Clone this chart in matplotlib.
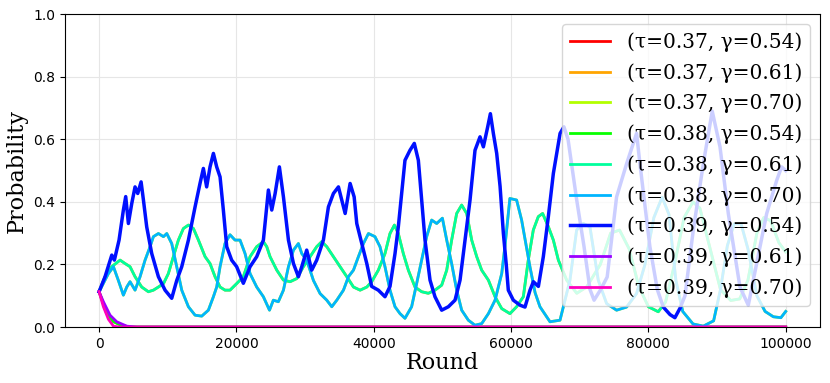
import matplotlib
matplotlib.use("Agg")
import matplotlib.pyplot as plt

plt.rcParams["font.family"] = ["DejaVu Serif"]

labels = ["(τ=0.37, γ=0.54)", "(τ=0.37, γ=0.61)", "(τ=0.37, γ=0.70)",
          "(τ=0.38, γ=0.54)", "(τ=0.38, γ=0.61)", "(τ=0.38, γ=0.70)",
          "(τ=0.39, γ=0.54)", "(τ=0.39, γ=0.61)", "(τ=0.39, γ=0.70)"]

# collapsing runs
red_x = [0, 1000, 2000, 3200, 4500, 100000]
red_y = [0.113, 0.05, 0.02, 0.006, 0.0, 0.0]
green_x = [0, 1120, 2090, 3300, 4500, 100000]
green_y = [0.113, 0.044, 0.017, 0.005, 0.0, 0.0]
purple_x = [0, 630, 1600, 2570, 4030, 5500, 100000]
purple_y = [0.113, 0.081, 0.038, 0.017, 0.003, 0.0, 0.0]
magenta_x = [0, 630, 1360, 2090, 3000, 100000]
magenta_y = [0.113, 0.065, 0.025, 0.003, 0.0, 0.0]

# gamma=0.61 runs
teal_x = [0, 870, 1840, 3060, 3790, 4510, 5240, 6210, 7180, 7910, 8640, 9380,
          10090, 10820, 11550, 12280, 13010, 13740, 14470, 15440, 16160, 16890,
          17620, 18340, 19070, 20040, 21010, 21990, 22960, 23930, 24420, 24900,
          25880, 26850, 27820, 28790, 29760, 30730, 31700, 32430, 33160, 34130,
          35100, 36080, 37050, 38020, 39000, 39700, 40670, 41640, 42370, 43010,
          43580, 44310, 45040, 46010, 46980, 47950, 48920, 49900, 50630, 51350,
          52080, 52810, 53540, 54270, 55000, 55720, 56700, 57670, 58640, 59840,
          60810, 61790, 62510, 63240, 63970, 64600, 65430, 66160, 66890, 68100,
          69570, 71000, 73000, 74500, 75800, 77200, 78600, 80000, 81440, 82500,
          83800, 85200, 86500, 87500, 89000, 90500, 92000, 93300, 94500, 95800,
          96800, 97800, 99000, 100000]
teal_y = [0.113, 0.161, 0.193, 0.214, 0.203, 0.193, 0.161, 0.128, 0.113, 0.118, 0.128, 0.139,
          0.171, 0.225, 0.278, 0.315, 0.326, 0.315, 0.278, 0.225, 0.203, 0.161,
          0.128, 0.118, 0.118, 0.139, 0.161, 0.225, 0.257, 0.273, 0.257, 0.225,
          0.182, 0.15, 0.145, 0.155, 0.193, 0.225, 0.257, 0.273, 0.257, 0.225,
          0.193, 0.161, 0.128, 0.118, 0.128, 0.145, 0.182, 0.235, 0.299, 0.326,
          0.299, 0.235, 0.182, 0.128, 0.113, 0.108, 0.118, 0.134, 0.182, 0.278,
          0.363, 0.39, 0.363, 0.278, 0.225, 0.182, 0.15, 0.097, 0.059, 0.043,
          0.065, 0.097, 0.214, 0.31, 0.353, 0.363, 0.321, 0.278, 0.214, 0.15,
          0.108, 0.128, 0.2, 0.3, 0.31, 0.25, 0.13, 0.065, 0.049, 0.08,
          0.2, 0.35, 0.4, 0.38, 0.25, 0.12, 0.085, 0.09, 0.15, 0.3,
          0.35, 0.34, 0.27, 0.24]
orange_x = teal_x
orange_y = teal_y

# gamma=0.70 runs
lblue_x = [0, 1360, 2090, 2810, 3540, 4030, 4510, 5240, 5970, 6700, 7430, 7910,
           8640, 9380, 9860, 10580, 11310, 12040, 13010, 13980, 14950, 15920,
           16650, 17130, 17620, 18340, 19070, 19800, 20530, 21260, 21990, 22960,
           23930, 24820, 25380, 26110, 26850, 27580, 28310, 29030, 29520, 30240,
           31220, 32190, 33160, 33890, 34620, 35590, 36320, 37050, 37770, 38500,
           39230, 40180, 40910, 41640, 42370, 43100, 43830, 44550, 45520, 46250,
           46980, 47710, 48440, 49170, 50000, 50630, 51350, 52080, 52810, 53780,
           54750, 55720, 56700, 57670, 58640, 59120, 59830, 60810, 61540, 62750,
           63500, 64210, 65670, 67130, 68580, 69550, 70520, 71490, 72700, 73920,
           75370, 76830, 78280, 79500, 80800, 82000, 83000, 84000, 85000, 86500,
           88000, 89500, 90500, 91500, 92500, 93500, 94500, 95800, 97000, 98200,
           99300, 100000]
lblue_y = [0.113, 0.171, 0.193, 0.149, 0.102, 0.128, 0.145, 0.118, 0.161, 0.214, 0.257, 0.289,
           0.299, 0.289, 0.299, 0.267, 0.193, 0.118, 0.065, 0.038, 0.035, 0.054,
           0.097, 0.128, 0.193, 0.267, 0.295, 0.278, 0.278, 0.235, 0.171, 0.128,
           0.097, 0.054, 0.086, 0.081, 0.118, 0.193, 0.246, 0.267, 0.235, 0.214,
           0.149, 0.107, 0.086, 0.065, 0.086, 0.118, 0.161, 0.182, 0.225, 0.267,
           0.299, 0.289, 0.257, 0.193, 0.118, 0.065, 0.043, 0.028, 0.065, 0.139,
           0.214, 0.289, 0.342, 0.331, 0.348, 0.278, 0.203, 0.118, 0.054, 0.022,
           0.006, 0.011, 0.043, 0.086, 0.171, 0.26, 0.411, 0.406, 0.342, 0.193,
           0.11, 0.065, 0.017, 0.022, 0.15, 0.31, 0.331, 0.32, 0.15, 0.075,
           0.054, 0.064, 0.107, 0.2, 0.35, 0.415, 0.36, 0.15, 0.05, 0.01,
           0.003, 0.02, 0.12, 0.26, 0.33, 0.33, 0.25, 0.1, 0.05, 0.033,
           0.03, 0.05]
ygreen_x = lblue_x
ygreen_y = lblue_y

# tau=0.39, gamma=0.54
blue_x = [0, 870, 1850, 2230, 2910, 3540, 3880, 4270, 4760, 5240, 5630, 6120,
          6460, 6940, 7670, 8640, 9610, 10580, 11310, 12040, 13010, 13980,
          14700, 15190, 15670, 16160, 16650, 17130, 17620, 18100, 18590, 19310,
          20040, 21010, 21990, 22960, 23930, 24660, 25150, 25640, 26260, 26850,
          27580, 28310, 29030, 29520, 30240, 30970, 31700, 32670, 33400, 34130,
          34860, 35350, 35840, 36560, 37150, 37530, 38260, 38990, 39700, 40670,
          41640, 42370, 43100, 43580, 44070, 44550, 45280, 45910, 46500, 46980,
          47470, 48200, 48920, 49900, 50870, 51840, 52570, 53290, 54020, 54750,
          55480, 55970, 56600, 56990, 57430, 57910, 58400, 58880, 59300, 59600,
          60330, 61300, 62030, 62760, 63250, 63980, 64700, 65430, 66160, 66650,
          67140, 67700, 68300, 69570, 70630, 71500, 72090, 73000, 74000, 75370,
          76830, 78280, 78770, 80220, 81300, 82170, 83150, 83860, 84600, 85330,
          86540, 88000, 89300, 90430, 91640, 93340, 94550, 95770, 97230, 98690,
          99400, 100000]
blue_y = [0.113, 0.161, 0.23, 0.214, 0.278, 0.374, 0.417, 0.331, 0.395, 0.448, 0.427, 0.464,
          0.406, 0.32, 0.235, 0.161, 0.118, 0.092, 0.149, 0.193, 0.278, 0.384,
          0.459, 0.507, 0.448, 0.512, 0.555, 0.512, 0.48, 0.374, 0.257, 0.214,
          0.193, 0.14, 0.193, 0.225, 0.278, 0.438, 0.374, 0.427, 0.512, 0.416,
          0.278, 0.203, 0.161, 0.193, 0.246, 0.182, 0.214, 0.278, 0.384, 0.427,
          0.448, 0.405, 0.363, 0.459, 0.416, 0.331, 0.267, 0.203, 0.13, 0.118,
          0.097, 0.13, 0.235, 0.32, 0.427, 0.533, 0.565, 0.587, 0.533, 0.405,
          0.278, 0.15, 0.097, 0.054, 0.065, 0.086, 0.15, 0.278, 0.405, 0.565,
          0.608, 0.576, 0.64, 0.682, 0.618, 0.555, 0.45, 0.3, 0.2, 0.118,
          0.086, 0.07, 0.064, 0.118, 0.145, 0.13, 0.225, 0.353, 0.491, 0.555,
          0.619, 0.64, 0.6, 0.405, 0.257, 0.12, 0.086, 0.118, 0.16, 0.416,
          0.522, 0.619, 0.522, 0.257, 0.12, 0.064, 0.04, 0.03, 0.06, 0.1,
          0.31, 0.522, 0.69, 0.576, 0.363, 0.128, 0.07, 0.203, 0.363, 0.469,
          0.512, 0.5]

series = [(red_x, red_y), (orange_x, orange_y), (ygreen_x, ygreen_y),
          (green_x, green_y), (teal_x, teal_y), (lblue_x, lblue_y),
          (blue_x, blue_y), (purple_x, purple_y), (magenta_x, magenta_y)]

fig, ax = plt.subplots(figsize=(8.3, 3.83), dpi=100)
fig.subplots_adjust(left=0.078, right=0.988, top=0.963, bottom=0.146)

for idx, (x, y) in enumerate(series):
    lw = 2.5 if idx == 6 else 2
    ax.plot(x, y, color=plt.cm.hsv(idx / 9), lw=lw, label=labels[idx])

ax.set_ylim(0, 1)
ax.set_xlim(-5000, 105000)
ax.grid(True, color="#e6e6e6", lw=0.8)
ax.set_axisbelow(True)
for t in ax.get_xticklabels() + ax.get_yticklabels():
    t.set_family("DejaVu Sans")
    t.set_fontsize(10)
ax.set_xlabel("Round", fontsize=16, labelpad=1)
ax.set_ylabel("Probability", fontsize=16)
ax.legend(loc="upper right", fontsize=14.5, labelspacing=0.55)

plt.savefig("out.png")
